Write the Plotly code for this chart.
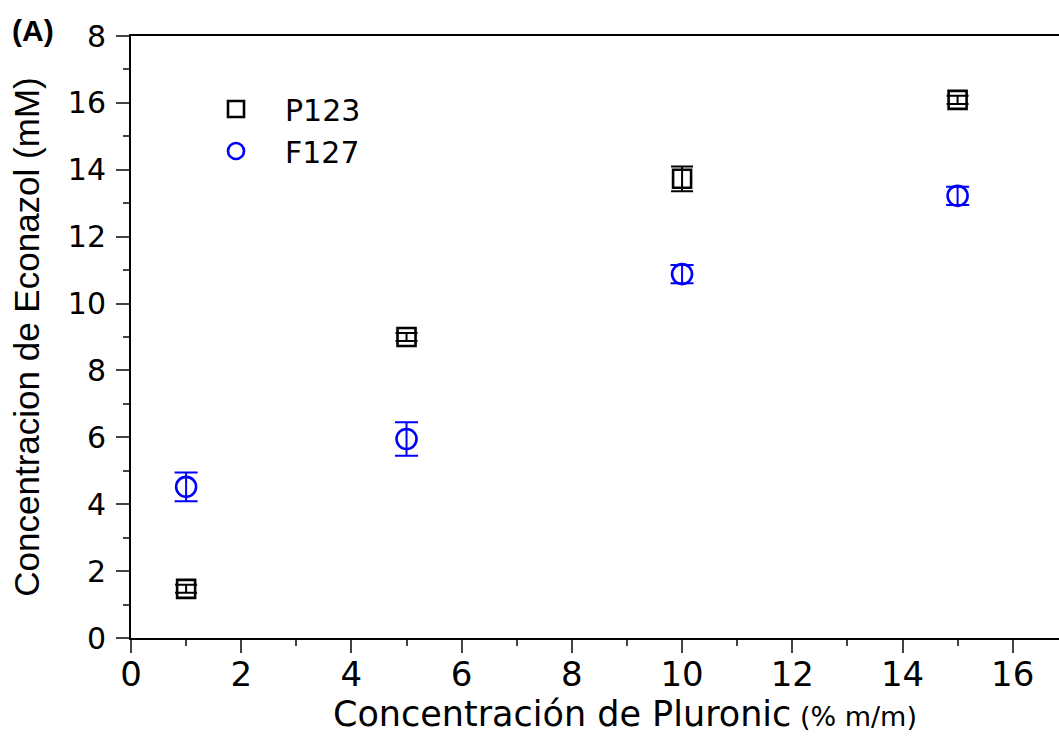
import plotly.graph_objects as go

pluronic = [1, 5, 10, 15]
p123 = [1.47, 9.0, 13.73, 16.09]
p123_err = [0.12, 0.12, 0.37, 0.12]
f127 = [4.52, 5.95, 10.88, 13.22]
f127_err = [0.43, 0.5, 0.27, 0.27]

y_tickvals = [0, 2, 4, 6, 8, 10, 12, 14, 16, 18]
y_ticktext = ["0", "2", "4", "6", "8", "10", "12", "14", "16", "8"]
x_tickvals = [0, 2, 4, 6, 8, 10, 12, 14, 16]

WIDE = "DejaVu Sans, Liberation Sans, sans-serif"
ARIAL = "Liberation Sans, Arial, sans-serif"

# plot area in pixels: x 131..1059, y 36..638
PW, PH = 928, 602


def px(xp):
    return (xp - 131) / PW


def py(yp):
    return (638 - yp) / PH


fig = go.Figure()
fig.add_trace(go.Scatter(
    x=pluronic, y=p123, mode="markers", name="P123",
    marker=dict(symbol="square-open", size=18, color="black", line=dict(width=2.6)),
    error_y=dict(type="data", array=p123_err, visible=True, color="black", thickness=2, width=11),
))
fig.add_trace(go.Scatter(
    x=pluronic, y=f127, mode="markers", name="F127",
    marker=dict(symbol="circle-open", size=20, color="blue", line=dict(width=2.6)),
    error_y=dict(type="data", array=f127_err, visible=True, color="blue", thickness=2, width=11.5),
))

fig.update_layout(
    width=1059, height=738,
    margin=dict(l=131, r=0, t=36, b=100),
    paper_bgcolor="white", plot_bgcolor="white",
    font=dict(family=WIDE, size=30, color="black"),
    showlegend=True,
    legend=dict(x=px(187), y=py(83), xanchor="left", yanchor="top", bgcolor="rgba(0,0,0,0)",
                font=dict(family=WIDE, size=30), itemwidth=88, tracegroupgap=0),
    xaxis=dict(
        range=[0, 16.84], tickvals=x_tickvals, ticks="outside", ticklen=13, tickwidth=2,
        showline=True, linewidth=2, linecolor="black", mirror=True, showgrid=False, zeroline=False,
        minor=dict(dtick=1, tick0=0, ticks="outside", ticklen=6, tickwidth=2, showgrid=False),
        tickfont=dict(family=WIDE, size=34), ticklabelstandoff=-8,
    ),
    yaxis=dict(
        range=[0, 18], tickvals=y_tickvals, ticktext=y_ticktext, ticks="outside", ticklen=13, tickwidth=2,
        showline=True, linewidth=2, linecolor="black", showgrid=False, zeroline=False,
        minor=dict(dtick=1, tick0=0, ticks="outside", ticklen=6, tickwidth=2, showgrid=False),
        tickfont=dict(family=WIDE, size=30), ticklabelstandoff=4,
        title=dict(text="Concentracion de Econazol (mM)", font=dict(family=ARIAL, size=35), standoff=18),
    ),
    annotations=[
        dict(text="<b>(A)</b>", x=px(10), y=py(31), xref="paper", yref="paper", showarrow=False,
             font=dict(family=ARIAL, size=30), xanchor="left", yanchor="middle"),
        dict(text="Concentración de Pluronic<span style='font-size:27px'> (% m/m)</span>",
             x=px(625), y=py(714), xref="paper", yref="paper", showarrow=False,
             font=dict(family=WIDE, size=35), xanchor="center", yanchor="middle"),
    ],
)

fig.write_html("out.html")
